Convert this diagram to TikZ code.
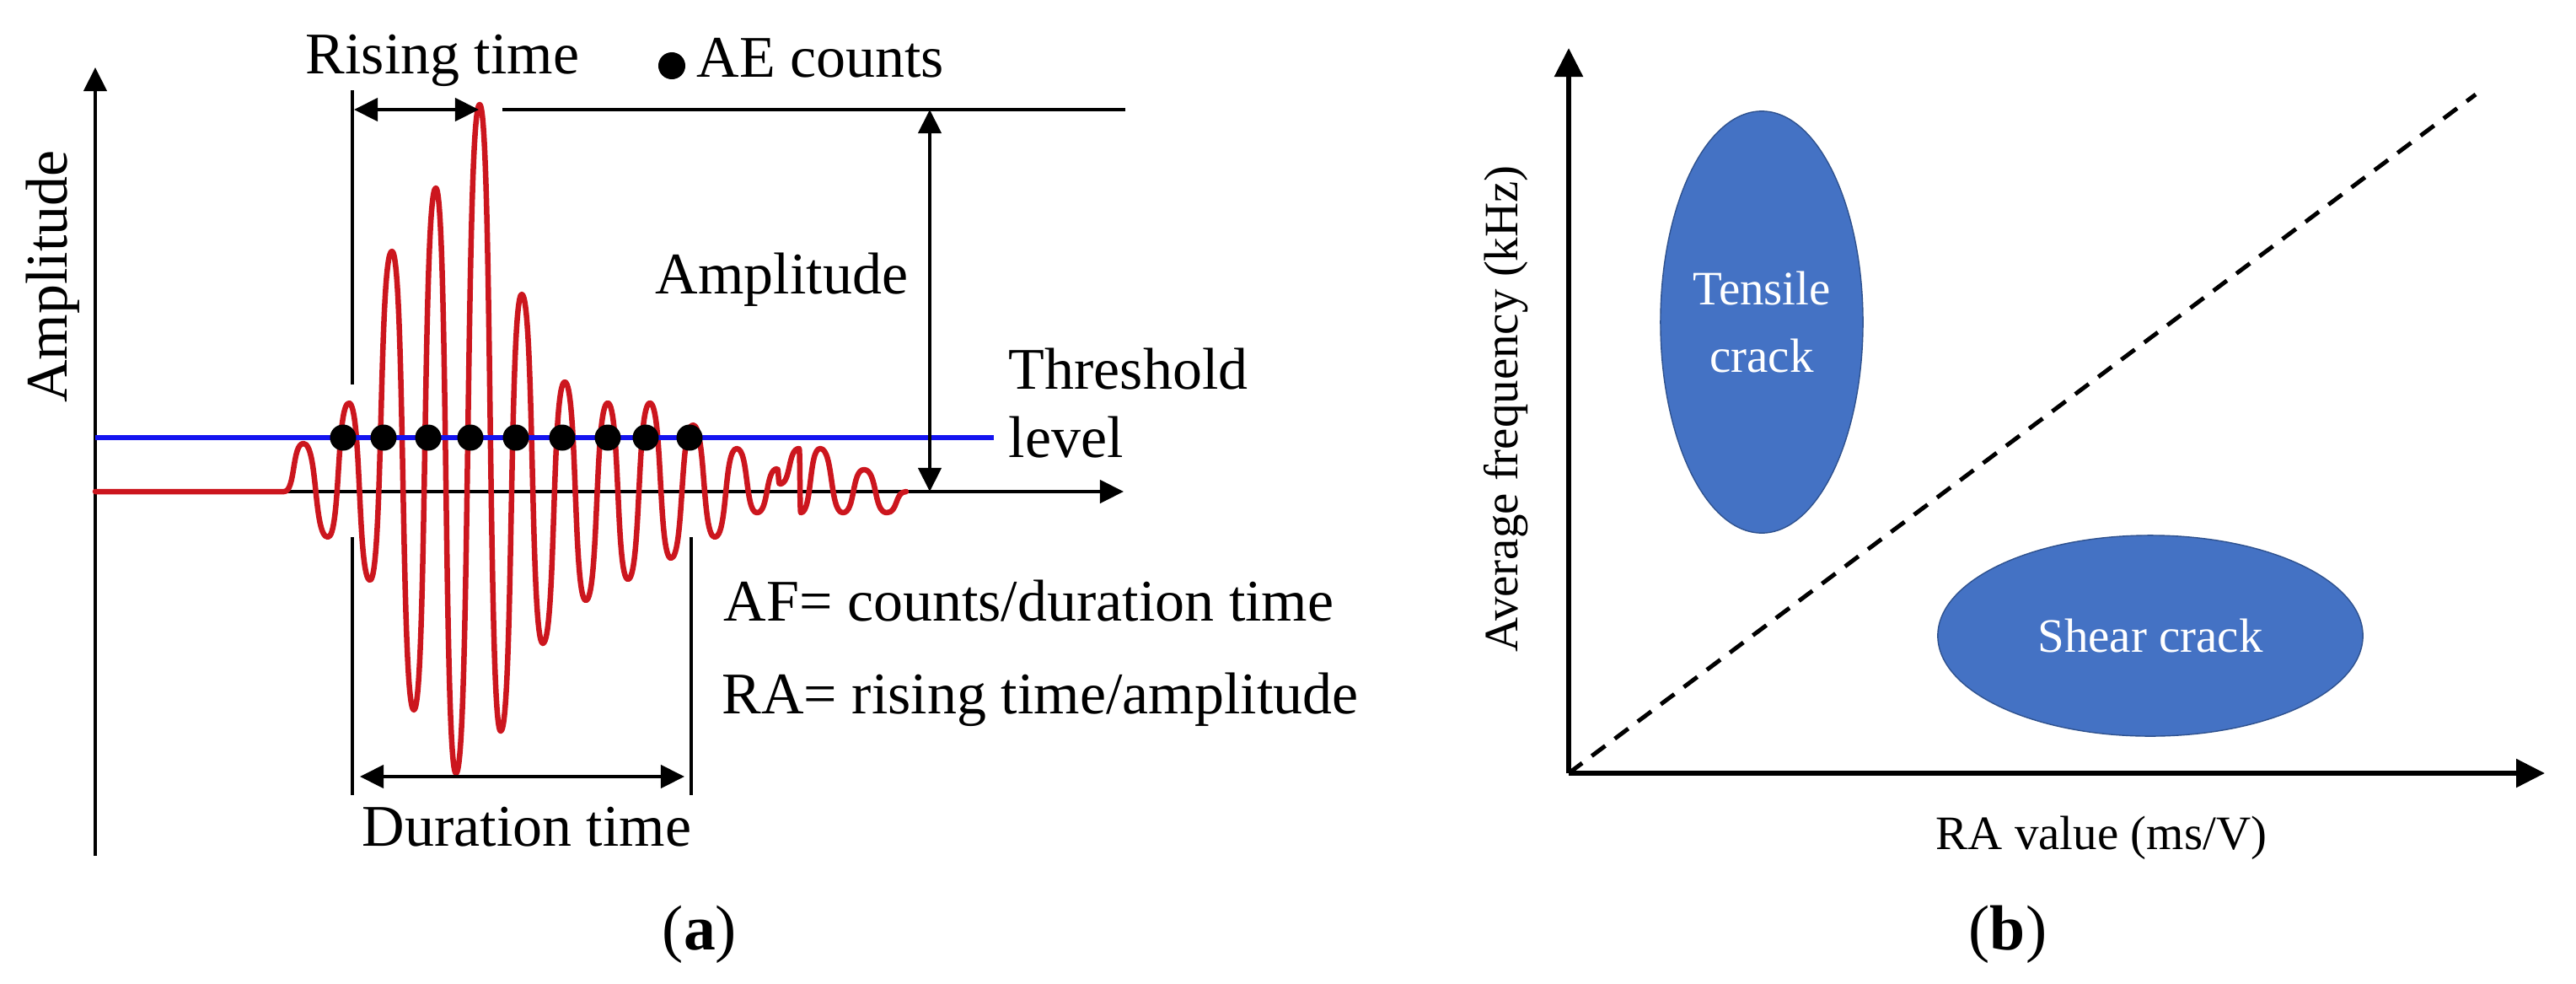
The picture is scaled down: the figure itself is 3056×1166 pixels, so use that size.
\documentclass[tikz,border=0pt]{standalone}
\usepackage{fontspec}
\setmainfont{Liberation Serif}
\usetikzlibrary{arrows.meta,shapes.geometric}
\definecolor{wavered}{RGB}{204,22,30}
\definecolor{thrblue}{RGB}{20,20,240}
\definecolor{crackfill}{RGB}{68,114,196}
\definecolor{crackedge}{RGB}{47,82,143}
\newcommand\sizeA{\fontsize{19.9pt}{23.3pt}\selectfont}
\newcommand\sizeB{\fontsize{16.2pt}{22.5pt}\selectfont}
\newcommand\sizeC{\fontsize{21.5pt}{24pt}\selectfont}
\tikzset{
  axisa/.style={line width=1.25pt, -{Triangle[length=0.28cm,width=0.27cm]}},
  axisb/.style={line width=1.6pt, -{Triangle[length=0.34cm,width=0.33cm]}},
  guide/.style={line width=0.9pt},
  topline/.style={line width=1.2pt},
  dimarr/.style={line width=1.2pt, {Triangle[length=0.28cm,width=0.27cm]}-{Triangle[length=0.28cm,width=0.27cm]}},
  wave/.style={draw=wavered, line width=1.85pt, line join=round, line cap=round},
  thrline/.style={draw=thrblue, line width=1.9pt},
  dotc/.style={circle, fill=black, minimum size=0.31cm, inner sep=0pt},
  lbla/.style={font=\sizeA, inner sep=0pt},
  lblb/.style={font=\sizeB, inner sep=0pt},
  capstyle/.style={font=\sizeC, inner sep=0pt},
  diag/.style={line width=1.42pt, dash pattern=on 5.7pt off 4pt},
  crack/.style={ellipse, fill=crackfill, draw=crackedge, line width=0.4pt, inner sep=0pt, text=white, font=\sizeB, align=center}
}
\begin{document}
\begin{tikzpicture}[x=0.01cm,y=-0.01cm]
\path[use as bounding box, fill=white] (0,0) rectangle (3056,1166);

% ---------- panel (a) ----------
\coordinate (aBot) at (113,1015);
\coordinate (aTop) at (113,80);
\coordinate (aO) at (113,583);
\coordinate (aX) at (1333,583);
\draw[axisa] (aBot) -- (aTop);
\draw[axisa] (aO) -- (aX);

\coordinate (rgTop) at (418,107);
\coordinate (rgBot) at (418,456);
\coordinate (dgLT) at (418,637);
\coordinate (dgLB) at (418,943);
\coordinate (dgRT) at (820,637);
\coordinate (dgRB) at (820,943);
\coordinate (tlL) at (596,130);
\coordinate (tlR) at (1335,130);
\draw[guide] (rgTop) -- (rgBot);
\draw[guide] (dgLT) -- (dgLB);
\draw[guide] (dgRT) -- (dgRB);
\draw[topline] (tlL) -- (tlR);

% waveform
\coordinate (wS) at (113,583);
\coordinate (wF) at (337,583);
\draw[wave] (wS) -- (wF)
  \foreach \xx/\yy [remember=\xx as \px (initially 337), remember=\yy as \py (initially 583)] in
  {360/526, 389/637, 414/478, 439/688, 465/298, 491/842, 517/223, 541/917, 569/124,
   594/867, 619/349, 644/763, 670/453, 695/712, 721/478, 745/687, 771/478, 796/662,
   822/504, 848/637, 874/532, 898/608, 922/556, 925/574, 948/532, 950/608, 973/532,
   1000/608, 1025/557, 1052/608, 1075/583}
  { .. controls ({\px+0.6*(\xx-\px)},\py) and ({\xx-0.6*(\xx-\px)},\yy) .. (\xx,\yy) };

% threshold line
\coordinate (thL) at (113,519);
\coordinate (thR) at (1179,519);
\draw[thrline] (thL) -- (thR);

% AE counts dots
\foreach \dx [count=\i] in {407,455,508,558,612,667,721,766,818}
  \node[dotc] (d\i) at (\dx,519) {};

% dimension arrows
\coordinate (raL) at (420,130);
\coordinate (raR) at (568,130);
\draw[dimarr] (raL) -- (raR);
\coordinate (amT) at (1103,130);
\coordinate (amB) at (1103,583);
\draw[dimarr] (amT) -- (amB);
\coordinate (duL) at (427,921);
\coordinate (duR) at (812,921);
\draw[dimarr] (duL) -- (duR);

% labels (a)
\node[lbla, anchor=base west] (rise) at (362,87) {Rising time};
\node[dotc, minimum size=0.32cm] (aedot) at (797,78) {};
\node[lbla, anchor=base west] (aec) at (826,91) {AE counts};
\node[lbla, anchor=base west] (ampl) at (777,348) {Amplitude};
\node[lbla, anchor=base west] (thr) at (1196,461) {Threshold};
\node[lbla, anchor=base west] (lev) at (1196,542) {level};
\node[lbla, anchor=base west] (af) at (858,736) {AF= counts/duration time};
\node[lbla, anchor=base west] (ra) at (856,846) {RA= rising time/amplitude};
\node[lbla, anchor=base] (dur) at (625,1003) {Duration time};
\node[lbla, rotate=90, anchor=base] (ylab) at (80,328) {Amplitude};
\node[capstyle, anchor=base] (capa) at (830,1126) {(\textbf{a})};

% ---------- panel (b) ----------
\coordinate (bO) at (1861,917);
\coordinate (bT) at (1861,57);
\coordinate (bX) at (3019,917);
\coordinate (bD) at (2937,112);
\draw[diag] (bO) -- (bD);
\draw[axisb] (bO) -- (bT);
\draw[axisb] (bO) -- (bX);

\node[crack, minimum width=2.4cm, minimum height=5.0cm] (tensile) at (2090,382) {Tensile\\crack};
\node[crack, minimum width=5.04cm, minimum height=2.38cm] (shear) at (2551,754) {Shear crack};

\node[lblb, anchor=base] (rav) at (2493,1007) {RA value (ms/V)};
\node[lblb, rotate=90, anchor=base] (afreq) at (1800,485) {Average frequency (kHz)};
\node[capstyle, anchor=base] (capb) at (2382,1126) {(\textbf{b})};
\end{tikzpicture}
\end{document}
